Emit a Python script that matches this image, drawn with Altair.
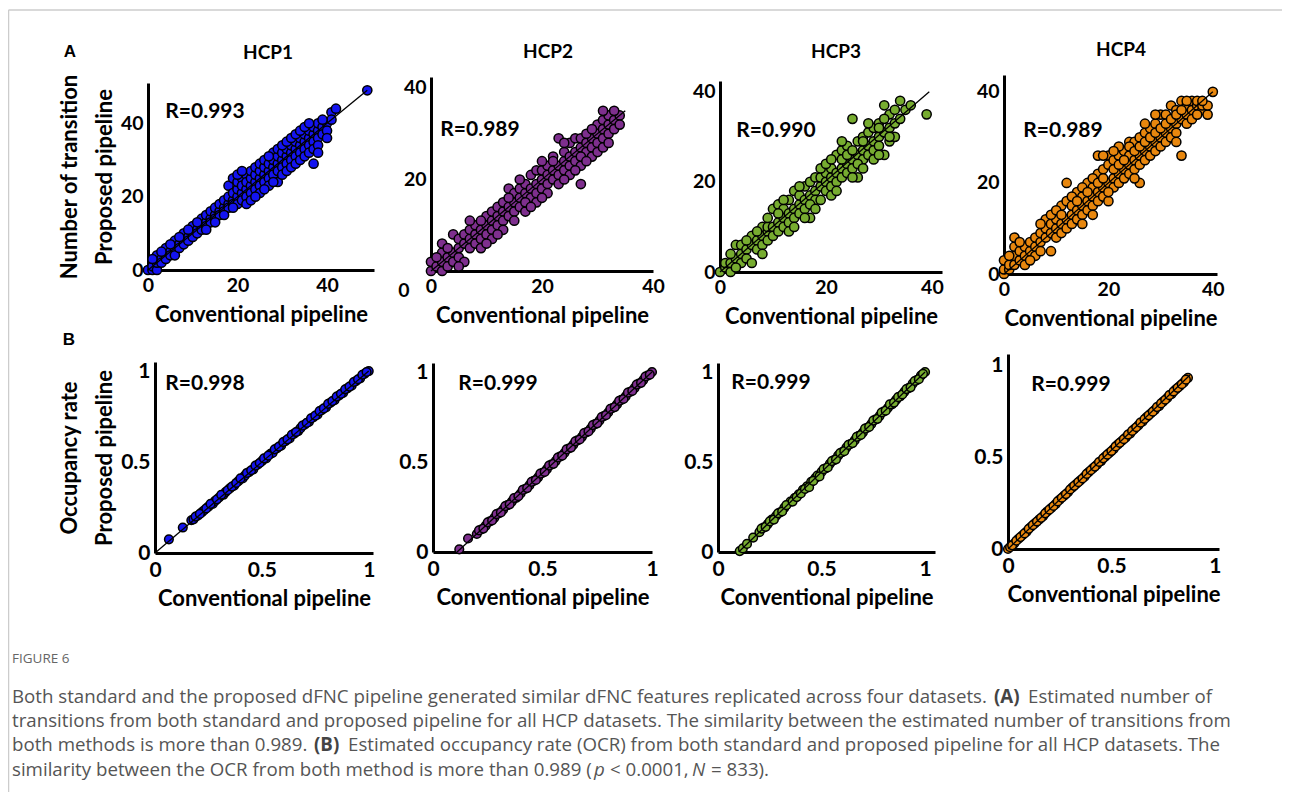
import altair as alt
import pandas as pd

# ---------------- data ----------------
hcp1_trans_conv = [0, 1, 1, 2, 2, 2, 3, 3, 4, 4, 4, 5, 5, 6, 6, 6, 7, 7, 8, 8, 8, 9, 9, 10, 10, 10,
                   11, 11, 12, 12, 12, 13, 13, 13, 14, 14, 14, 15, 15, 15, 16, 16, 16, 17, 17, 17,
                   18, 18, 18, 18, 19, 19, 19, 19, 20, 20, 20, 20, 21, 21, 21, 21, 22, 22, 22, 22, 22,
                   23, 23, 23, 23, 24, 24, 24, 24, 25, 25, 25, 25, 25, 26, 26, 26, 26, 27, 27, 27, 27,
                   28, 28, 28, 28, 29, 29, 29, 29, 29, 30, 30, 30, 30, 31, 31, 31, 31, 32, 32, 32, 32,
                   33, 33, 33, 33, 34, 34, 34, 34, 35, 35, 35, 35, 36, 36, 36, 36, 37, 37, 37, 37, 37,
                   38, 38, 38, 38, 38, 39, 39, 40, 40, 41, 41, 42, 49]
hcp1_trans_prop = [0, 0, 1, 0, 2, 4, 3, 2, 4, 6, 3, 5, 4, 6, 8, 4, 7, 6, 8, 10, 7, 9, 8, 10, 12, 9,
                   11, 10, 12, 14, 11, 13, 12, 15, 14, 16, 13, 15, 14, 17, 16, 18, 15, 17, 19, 16,
                   18, 20, 17, 23, 19, 21, 25, 18, 20, 22, 18, 24, 21, 19, 25, 23, 22, 20, 18, 26, 24,
                   23, 21, 25, 27, 24, 22, 26, 28, 25, 23, 27, 29, 21, 26, 24, 28, 30, 27, 25, 29, 23,
                   28, 26, 30, 32, 29, 27, 31, 24, 33, 30, 28, 32, 26, 31, 29, 33, 27, 32, 30, 34, 28,
                   33, 31, 35, 29, 34, 32, 36, 30, 35, 33, 37, 31, 36, 34, 38, 32, 37, 35, 39, 29, 33,
                   38, 36, 40, 34, 32, 39, 37, 40, 38, 43, 41, 44, 49]
hcp1_trans_conv_more = [1, 3, 5, 7, 9, 11, 13, 15, 17, 19, 20, 21, 23, 24, 26, 27, 28, 30, 31, 32,
                        33, 34, 35, 36, 39, 40]
hcp1_trans_prop_more = [3, 5, 7, 9, 11, 13, 11, 13, 15, 17, 26, 27, 19, 20, 22, 31, 24, 34, 35, 36,
                        37, 38, 39, 40, 41, 36]

hcp2_trans_conv = [0, 0, 1, 2, 2, 2, 2, 3, 3, 4, 4, 4, 5, 5, 5, 6, 6, 6, 7, 7, 7, 8, 8, 8, 9, 9,
                   10, 10, 10, 11, 11, 11, 12, 12, 12, 13, 13, 13, 14, 14, 14, 15, 15, 15, 16, 16, 16,
                   17, 17, 17, 18, 18, 18, 19, 19, 19, 20, 20, 20, 21, 21, 21, 22, 22, 22, 23, 23, 23,
                   24, 24, 24, 25, 25, 25, 26, 26, 26, 27, 27, 27, 27, 28, 28, 29, 29, 30, 30, 30,
                   31, 31, 31, 32, 32, 32, 33, 33, 34, 34]
hcp2_trans_prop = [0, 2, 1, 0, 2, 4, 6, 3, 1, 4, 8, 2, 5, 7, 3, 6, 2, 8, 7, 9, 5, 8, 10, 6, 9, 7,
                   10, 12, 8, 11, 13, 9, 12, 14, 10, 13, 15, 11, 14, 18, 12, 15, 17, 13, 16, 18, 14,
                   17, 19, 13, 18, 21, 16, 19, 22, 17, 20, 22, 18, 21, 23, 19, 22, 25, 20, 23, 29, 21,
                   24, 26, 22, 25, 28, 23, 26, 29, 24, 27, 29, 23, 19, 28, 26, 29, 27, 30, 32, 28,
                   31, 33, 29, 32, 34, 30, 33, 31, 34, 32]
hcp2_trans_conv_more = [1, 3, 5, 7, 9, 9, 11, 13, 15, 16, 17, 19, 20, 21, 22, 23, 24, 25, 26, 28,
                        29, 29, 30, 31, 33, 20, 18, 12, 10, 14, 24, 27, 31, 32, 28]
hcp2_trans_prop_more = [3, 5, 1, 11, 11, 5, 7, 9, 11, 20, 15, 15, 24, 17, 24, 19, 28, 21, 22, 30,
                        25, 31, 26, 27, 35, 16, 14, 8, 6, 16, 20, 25, 35, 28, 24]

hcp3_trans_conv = [0, 1, 1, 2, 2, 3, 3, 4, 4, 4, 5, 5, 6, 6, 6, 7, 7, 8, 8, 8, 9, 9, 9, 10, 10, 10,
                   11, 11, 11, 12, 12, 12, 13, 13, 13, 14, 14, 14, 15, 15, 15, 16, 16, 16, 17, 17, 17,
                   18, 18, 18, 19, 19, 19, 20, 20, 20, 21, 21, 21, 22, 22, 22, 23, 23, 23, 24, 24, 24,
                   25, 25, 25, 26, 26, 26, 27, 27, 27, 28, 28, 28, 29, 29, 29, 30, 30, 30, 31, 31, 31,
                   32, 32, 32, 33, 33, 34, 34, 35, 36, 39]
hcp3_trans_prop = [0, 1, 2, 0, 2, 3, 6, 4, 2, 6, 5, 3, 6, 8, 2, 7, 5, 8, 10, 6, 9, 10, 7, 10, 14, 8,
                   11, 15, 9, 12, 14, 10, 13, 16, 11, 14, 18, 12, 15, 17, 13, 16, 19, 14, 17, 20, 12,
                   18, 21, 16, 19, 21, 16, 20, 22, 18, 21, 23, 19, 22, 26, 20, 23, 27, 21, 24, 28, 22,
                   25, 34, 23, 26, 29, 21, 27, 30, 25, 28, 31, 26, 29, 32, 27, 30, 33, 28, 31, 37, 26,
                   32, 35, 29, 33, 30, 34, 38, 36, 37, 35]
hcp3_trans_conv_more = [2, 3, 5, 7, 8, 9, 11, 12, 13, 14, 15, 16, 17, 18, 19, 20, 21, 22, 23, 24,
                        25, 25, 26, 27, 28, 29, 30, 31, 32, 33, 30, 27, 23, 21]
hcp3_trans_prop_more = [4, 1, 7, 9, 4, 12, 13, 16, 9, 10, 19, 12, 15, 14, 23, 24, 17, 18, 25, 26,
                        27, 21, 24, 23, 33, 25, 32, 34, 30, 36, 26, 29, 29, 25]

hcp4_trans_conv = [0, 0, 0, 1, 1, 2, 2, 2, 2, 3, 3, 4, 4, 4, 5, 5, 6, 6, 6, 7, 7, 7, 8, 8, 8, 9, 9, 9,
                   10, 10, 10, 11, 11, 11, 12, 12, 12, 12, 13, 13, 13, 14, 14, 14, 15, 15, 15, 16, 16, 16,
                   17, 17, 17, 18, 18, 18, 18, 19, 19, 19, 20, 20, 20, 20, 21, 21, 21, 22, 22, 22,
                   23, 23, 23, 24, 24, 24, 24, 25, 25, 25, 26, 26, 26, 26, 27, 27, 27, 28, 28, 28,
                   29, 29, 29, 30, 30, 30, 31, 31, 31, 32, 32, 32, 33, 33, 33, 34, 34, 34, 35, 35, 35,
                   36, 36, 37, 37, 38, 38, 39, 39, 40]
hcp4_trans_prop = [0, 1, 3, 1, 2, 2, 4, 6, 8, 3, 5, 4, 6, 2, 5, 7, 6, 8, 4, 7, 9, 5, 8, 12, 10, 9, 5, 11,
                   10, 12, 8, 11, 15, 9, 12, 20, 16, 10, 13, 15, 11, 14, 18, 12, 15, 17, 13, 16, 20, 14,
                   17, 19, 15, 18, 26, 22, 16, 19, 23, 17, 20, 26, 24, 16, 21, 25, 19, 22, 26, 20,
                   23, 27, 21, 24, 29, 26, 22, 25, 29, 23, 26, 30, 20, 24, 27, 31, 25, 28, 32, 26,
                   29, 33, 27, 30, 35, 28, 31, 35, 29, 32, 37, 30, 33, 36, 31, 34, 38, 26, 35, 37, 33,
                   36, 38, 37, 38, 36, 37, 35, 37, 40]
hcp4_trans_conv_more = [1, 3, 5, 7, 9, 10, 11, 13, 14, 15, 16, 17, 18, 19, 19, 20, 21, 22, 23, 24,
                        25, 26, 27, 28, 29, 30, 31, 32, 33, 34, 35, 36, 29, 27, 22, 21, 15, 17, 25,
                        33, 37, 38]
hcp4_trans_prop_more = [4, 7, 3, 11, 13, 14, 13, 17, 16, 19, 18, 21, 20, 21, 26, 18, 23, 24, 25, 28,
                        27, 28, 29, 30, 31, 32, 33, 34, 35, 36, 38, 34, 35, 33, 28, 27, 11, 13, 21,
                        29, 35, 38]

hcp1_ocr_conv = [0.065, 0.13, 0.17, 0.18, 0.2, 0.22, 0.23, 0.25, 0.27, 0.28, 0.3, 0.32, 0.33, 0.35,
                 0.37, 0.39, 0.41, 0.42, 0.44, 0.46, 0.48, 0.5, 0.52, 0.54, 0.55, 0.57, 0.59, 0.61,
                 0.63, 0.65, 0.67, 0.68, 0.7, 0.72, 0.74, 0.76, 0.78, 0.8, 0.82, 0.84, 0.86, 0.88,
                 0.9, 0.92, 0.94, 0.96, 0.98, 1.0,
                 0.19, 0.21, 0.24, 0.26, 0.29, 0.31, 0.34, 0.36, 0.38, 0.4, 0.43, 0.45, 0.47, 0.49,
                 0.51, 0.53, 0.56, 0.58, 0.6, 0.62, 0.64, 0.66, 0.69, 0.71, 0.73, 0.75, 0.77, 0.79,
                 0.81, 0.83, 0.85, 0.87, 0.89, 0.91, 0.93, 0.95, 0.97, 0.99]
hcp1_ocr_prop = [0.075, 0.14, 0.18, 0.185, 0.205, 0.225, 0.235, 0.255, 0.27, 0.285, 0.305, 0.32,
                 0.335, 0.355, 0.37, 0.395, 0.41, 0.425, 0.445, 0.46, 0.485, 0.505, 0.52, 0.545, 0.55,
                 0.575, 0.59, 0.615, 0.63, 0.655, 0.67, 0.685, 0.705, 0.72, 0.745, 0.76, 0.785, 0.8,
                 0.825, 0.84, 0.865, 0.88, 0.905, 0.92, 0.945, 0.96, 0.985, 1.0,
                 0.2, 0.215, 0.245, 0.27, 0.295, 0.32, 0.345, 0.365, 0.385, 0.41, 0.44, 0.455, 0.48,
                 0.495, 0.52, 0.535, 0.57, 0.585, 0.61, 0.625, 0.65, 0.665, 0.7, 0.715, 0.74, 0.755,
                 0.78, 0.795, 0.82, 0.835, 0.86, 0.875, 0.9, 0.915, 0.94, 0.955, 0.98, 0.995]

hcp2_ocr_conv = [0.12, 0.16, 0.2, 0.22, 0.24, 0.26, 0.28, 0.3, 0.32, 0.34, 0.36, 0.38, 0.4, 0.42,
                 0.44, 0.46, 0.48, 0.5, 0.52, 0.54, 0.56, 0.58, 0.6, 0.62, 0.64, 0.66, 0.68, 0.7,
                 0.72, 0.74, 0.76, 0.78, 0.8, 0.82, 0.84, 0.86, 0.88, 0.9, 0.92, 0.94, 0.96, 0.98, 1.0,
                 0.21, 0.23, 0.25, 0.27, 0.29, 0.31, 0.33, 0.35, 0.37, 0.39, 0.41, 0.43, 0.45, 0.47,
                 0.49, 0.51, 0.53, 0.55, 0.57, 0.59, 0.61, 0.63, 0.65, 0.67, 0.69, 0.71, 0.73, 0.75,
                 0.77, 0.79, 0.81, 0.83, 0.85, 0.87, 0.89, 0.91, 0.93, 0.95, 0.97, 0.99]
hcp2_ocr_prop = [0.015, 0.075, 0.1, 0.125, 0.145, 0.17, 0.19, 0.215, 0.235, 0.26, 0.28, 0.3, 0.325,
                 0.35, 0.37, 0.395, 0.415, 0.44, 0.46, 0.485, 0.505, 0.53, 0.55, 0.575, 0.595, 0.62,
                 0.64, 0.665, 0.685, 0.71, 0.73, 0.755, 0.775, 0.8, 0.82, 0.845, 0.865, 0.89, 0.91,
                 0.935, 0.955, 0.98, 1.0,
                 0.12, 0.13, 0.165, 0.175, 0.21, 0.22, 0.255, 0.265, 0.3, 0.31, 0.345, 0.355, 0.39,
                 0.4, 0.435, 0.445, 0.48, 0.49, 0.525, 0.535, 0.57, 0.58, 0.615, 0.625, 0.66, 0.67,
                 0.705, 0.715, 0.75, 0.76, 0.795, 0.805, 0.84, 0.85, 0.885, 0.895, 0.93, 0.94,
                 0.975, 0.985]

hcp3_ocr_conv = [0.105, 0.12, 0.14, 0.17, 0.2, 0.22, 0.24, 0.26, 0.28, 0.3, 0.32, 0.35, 0.37, 0.39,
                 0.41, 0.43, 0.45, 0.47, 0.48, 0.5, 0.52, 0.54, 0.56, 0.58, 0.6, 0.62, 0.64, 0.66,
                 0.68, 0.7, 0.72, 0.74, 0.76, 0.78, 0.8, 0.82, 0.84, 0.86, 0.88, 0.9, 0.92, 0.94,
                 0.96, 0.98, 1.0,
                 0.21, 0.23, 0.25, 0.27, 0.29, 0.31, 0.33, 0.36, 0.38, 0.4, 0.42, 0.44, 0.46, 0.49,
                 0.51, 0.53, 0.55, 0.57, 0.59, 0.61, 0.63, 0.65, 0.67, 0.69, 0.71, 0.73, 0.75, 0.77,
                 0.79, 0.81, 0.83, 0.85, 0.87, 0.89, 0.91, 0.93, 0.95, 0.97, 0.99]
hcp3_ocr_prop = [0.005, 0.02, 0.045, 0.08, 0.11, 0.135, 0.155, 0.18, 0.2, 0.22, 0.245, 0.28, 0.3,
                 0.32, 0.345, 0.365, 0.39, 0.41, 0.425, 0.445, 0.465, 0.49, 0.51, 0.535, 0.555, 0.58,
                 0.6, 0.62, 0.645, 0.665, 0.69, 0.71, 0.735, 0.755, 0.78, 0.8, 0.82, 0.845, 0.865,
                 0.89, 0.91, 0.935, 0.955, 0.98, 1.0,
                 0.13, 0.14, 0.17, 0.18, 0.215, 0.225, 0.26, 0.28, 0.305, 0.325, 0.35, 0.36, 0.395,
                 0.42, 0.46, 0.47, 0.505, 0.515, 0.55, 0.56, 0.595, 0.605, 0.64, 0.65, 0.685, 0.695,
                 0.73, 0.74, 0.775, 0.785, 0.82, 0.83, 0.86, 0.875, 0.905, 0.915, 0.95, 0.96, 0.99]

hcp4_ocr_conv = [0, 0.01, 0.03, 0.05, 0.07, 0.09, 0.11, 0.13, 0.15, 0.17, 0.19, 0.21, 0.23, 0.25,
                 0.27, 0.29, 0.31, 0.33, 0.35, 0.37, 0.39, 0.41, 0.43, 0.45, 0.47, 0.49, 0.51, 0.53,
                 0.55, 0.57, 0.59, 0.61, 0.63, 0.65, 0.67, 0.69, 0.71, 0.73, 0.75, 0.77, 0.79, 0.81,
                 0.83, 0.85, 0.87,
                 0.02, 0.04, 0.06, 0.08, 0.1, 0.12, 0.14, 0.16, 0.18, 0.2, 0.22, 0.24, 0.26, 0.28,
                 0.3, 0.32, 0.34, 0.36, 0.38, 0.4, 0.42, 0.44, 0.46, 0.48, 0.5, 0.52, 0.54, 0.56,
                 0.58, 0.6, 0.62, 0.64, 0.66, 0.68, 0.7, 0.72, 0.74, 0.76, 0.78, 0.8, 0.82, 0.84, 0.86]
hcp4_ocr_prop = [0, 0.01, 0.03, 0.055, 0.075, 0.095, 0.12, 0.14, 0.16, 0.18, 0.205, 0.225, 0.245,
                 0.27, 0.29, 0.31, 0.335, 0.355, 0.375, 0.395, 0.42, 0.44, 0.46, 0.48, 0.505, 0.525,
                 0.545, 0.57, 0.59, 0.61, 0.63, 0.655, 0.675, 0.695, 0.72, 0.74, 0.76, 0.78, 0.805,
                 0.825, 0.845, 0.87, 0.89, 0.91, 0.935,
                 0.02, 0.045, 0.065, 0.085, 0.11, 0.13, 0.15, 0.17, 0.195, 0.215, 0.235, 0.26, 0.28,
                 0.3, 0.325, 0.345, 0.365, 0.385, 0.41, 0.43, 0.45, 0.475, 0.495, 0.515, 0.535, 0.56,
                 0.58, 0.6, 0.625, 0.645, 0.665, 0.69, 0.71, 0.73, 0.75, 0.775, 0.795, 0.815, 0.84,
                 0.86, 0.88, 0.9, 0.925]

# fitted lines (end points, data units)
fit_trans_x = [[0, 49], [0, 35], [0, 39.5], [0, 40]]
fit_trans_y = [[0, 49], [0, 35], [0, 40], [0, 40]]
fit_ocr_x = [[0, 1], [0.11, 1], [0.1, 1], [0, 0.88]]
fit_ocr_y = [[0, 1], [0, 1], [0, 1], [0, 0.95]]

datasets = ["HCP1", "HCP2", "HCP3", "HCP4"]
r_trans = ["R=0.993", "R=0.989", "R=0.990", "R=0.989"]
r_ocr = ["R=0.998", "R=0.999", "R=0.999", "R=0.999"]
colors = ["#1414F0", "#7E2F8E", "#77AC30", "#E8870E"]
trans_ticks = [0, 20, 40]
ocr_ticks = [0, 0.5, 1]

# ---------------- layout (page pixels; canvas starts at page 8,8) ----------------
W, H = 1274, 784
OFF = 8
FONT = "Lato"

trans_geom = [
    dict(xd=[0, 50.5], x=[148, 374], yd=[0, 51], y=[270, 83], yt=[0, 20, 40]),
    dict(xd=[0, 40], x=[431, 653], yd=[0, 42.4], y=[271, 77], yt=[20, 40]),
    dict(xd=[0, 41.9], x=[720, 942], yd=[0, 42.4], y=[272, 81], yt=[0, 20, 40]),
    dict(xd=[0, 40.8], x=[1004, 1217], yd=[0, 43.7], y=[274, 75], yt=[0, 20, 40]),
]
ocr_geom = [
    dict(xd=[0, 1.02], x=[155, 373], yd=[0, 1.05], y=[553, 362], yt=[0, 0.5, 1]),
    dict(xd=[0, 1.0], x=[433, 652], yd=[0, 1.05], y=[552, 363], yt=[0, 0.5, 1]),
    dict(xd=[0, 1.048], x=[718, 935], yd=[0, 1.05], y=[552, 363], yt=[0, 0.5, 1]),
    dict(xd=[0, 1.02], x=[1008, 1219], yd=[0, 1.065], y=[549, 354], yt=[0, 0.5, 1]),
]


def panel(conv, prop, fx, fy, color, g, xticks, ytitle, size, lab, tpad):
    pts = pd.DataFrame({"conv": conv, "prop": prop})
    fit = pd.DataFrame({"conv": fx, "prop": fy})
    xs = alt.Scale(domain=g["xd"], range=[g["x"][0] - OFF, g["x"][1] - OFF], nice=False, zero=False)
    ys = alt.Scale(domain=g["yd"], range=[g["y"][0] - OFF, g["y"][1] - OFF], nice=False, zero=False)
    xa = alt.Axis(orient="bottom", offset=(g["y"][0] - OFF) - H, values=xticks,
                  labelExpr="'' + datum.value", labelFontSize=lab,
                  title="Conventional pipeline", labelFlush=False, labelPadding=6, titlePadding=tpad)
    ya = alt.Axis(orient="left", offset=-(g["x"][0] - OFF), values=g["yt"],
                  labelExpr="'' + datum.value", labelFontSize=lab,
                  labelFlush=False, labelPadding=5, titlePadding=4, titleLineHeight=35,
                  title=ytitle if ytitle else "")
    enc = dict(x=alt.X("conv:Q", scale=xs, axis=xa), y=alt.Y("prop:Q", scale=ys, axis=ya))
    p = alt.Chart(pts).mark_circle(size=size, fill=color, stroke="black", strokeWidth=1.5,
                                   opacity=1, fillOpacity=1).encode(**enc)
    l = alt.Chart(fit).mark_line(color="black", strokeWidth=1.3).encode(**enc)
    return alt.layer(p, l)


trans_data = [
    (hcp1_trans_conv + hcp1_trans_conv_more, hcp1_trans_prop + hcp1_trans_prop_more),
    (hcp2_trans_conv + hcp2_trans_conv_more, hcp2_trans_prop + hcp2_trans_prop_more),
    (hcp3_trans_conv + hcp3_trans_conv_more, hcp3_trans_prop + hcp3_trans_prop_more),
    (hcp4_trans_conv + hcp4_trans_conv_more, hcp4_trans_prop + hcp4_trans_prop_more),
]
ocr_data = [(hcp1_ocr_conv, hcp1_ocr_prop), (hcp2_ocr_conv, hcp2_ocr_prop),
            (hcp3_ocr_conv, hcp3_ocr_prop), (hcp4_ocr_conv, hcp4_ocr_prop)]

layers = []
for i in range(4):
    layers.append(panel(trans_data[i][0], trans_data[i][1], fit_trans_x[i], fit_trans_y[i],
                        colors[i], trans_geom[i], trans_ticks,
                        ["Number of transition", "Proposed pipeline"] if i == 0 else None, 85, 19.5, 10))
for i in range(4):
    layers.append(panel(ocr_data[i][0], ocr_data[i][1], fit_ocr_x[i], fit_ocr_y[i],
                        colors[i], ocr_geom[i], ocr_ticks,
                        ["Occupancy rate", "Proposed pipeline"] if i == 0 else None, 75, 21, 8))

dummy = pd.DataFrame({"d": [0]})


def txt(s, x, y, size=20, weight="bold", font=FONT, color="black", align="center", style="normal"):
    return alt.Chart(dummy).mark_text(
        text=s, fontSize=size, fontWeight=weight, font=font, color=color, align=align,
        baseline="middle", fontStyle=style
    ).encode(x=alt.value(x - OFF), y=alt.value(y - OFF))


texts = []
texts.append(alt.Chart(dummy).mark_rule(color="#cccccc", strokeWidth=1.5).encode(
    x=alt.value(0.5), x2=alt.value(W), y=alt.value(10 - OFF), y2=alt.value(10 - OFF)))
texts.append(alt.Chart(dummy).mark_rule(color="#cccccc", strokeWidth=1.5).encode(
    x=alt.value(8.5 - OFF), x2=alt.value(8.5 - OFF), y=alt.value(10 - OFF), y2=alt.value(H)))

texts.append(txt("A", 70, 52, size=17, font="Liberation Sans"))
texts.append(txt("B", 69, 340, size=17, font="Liberation Sans"))
for s, (x, y) in zip(datasets, [(268, 53), (548, 52), (836, 52), (1121, 50)]):
    texts.append(txt(s, x, y, size=19))
for s, (x, y) in zip(r_trans, [(205, 112), (480, 130), (776, 131), (1063, 131)]):
    texts.append(txt(s, x, y, size=21))
for s, (x, y) in zip(r_ocr, [(205, 384), (498, 384), (771, 383), (1071, 385)]):
    texts.append(txt(s, x, y, size=21))
texts.append(txt("0", 404, 291, size=19.5))

# caption
CF = "Open Sans"
CC = "#555555"
CS = 18.7
texts.append(txt("FIGURE 6", 12, 659, size=13.5, weight="normal", font=CF, color="#666666", align="left"))
texts.append(txt("Both standard and the proposed dFNC pipeline generated similar dFNC features replicated across four datasets.",
                 12, 697, size=CS, weight="normal", font=CF, color=CC, align="left"))
texts.append(txt("(A)", 994, 697, size=CS, weight="bold", font=CF, color="#444444", align="left"))
texts.append(txt("Estimated number of", 1028, 697, size=CS, weight="normal", font=CF, color=CC, align="left"))
texts.append(txt("transitions from both standard and proposed pipeline for all HCP datasets. The similarity between the estimated number of transitions from",
                 12, 721, size=CS, weight="normal", font=CF, color=CC, align="left"))
texts.append(txt("both methods is more than 0.989.", 12, 745, size=CS, weight="normal", font=CF, color=CC, align="left"))
texts.append(txt("(B)", 314, 745, size=CS, weight="bold", font=CF, color="#444444", align="left"))
texts.append(txt("Estimated occupancy rate (OCR) from both standard and proposed pipeline for all HCP datasets. The",
                 348, 745, size=CS, weight="normal", font=CF, color=CC, align="left"))
texts.append(txt("similarity between the OCR from both method is more than 0.989 (", 12, 770, size=CS,
                 weight="normal", font=CF, color=CC, align="left"))
texts.append(txt("p", 594, 770, size=CS, weight="normal", font=CF, color=CC, align="left", style="italic"))
texts.append(txt("< 0.0001,", 610, 770, size=CS, weight="normal", font=CF, color=CC, align="left"))
texts.append(txt("N", 692, 770, size=CS, weight="normal", font=CF, color=CC, align="left", style="italic"))
texts.append(txt("= 833).", 711, 770, size=CS, weight="normal", font=CF, color=CC, align="left"))

chart = alt.layer(*layers, *texts).resolve_scale(x="independent", y="independent").resolve_axis(
    x="independent", y="independent"
).properties(
    width=W, height=H, padding=0, autosize=alt.AutoSizeParams(type="none")
).configure_view(stroke=None).configure_axis(
    grid=False, ticks=False, domainWidth=3, domainColor="black",
    labelFont=FONT, labelFontWeight="bold", labelColor="black",
    titleFont=FONT, titleFontSize=22, titleFontWeight="bold", titleColor="black",
)

chart.save("out.html", embed_options={"renderer": "svg", "actions": False})
